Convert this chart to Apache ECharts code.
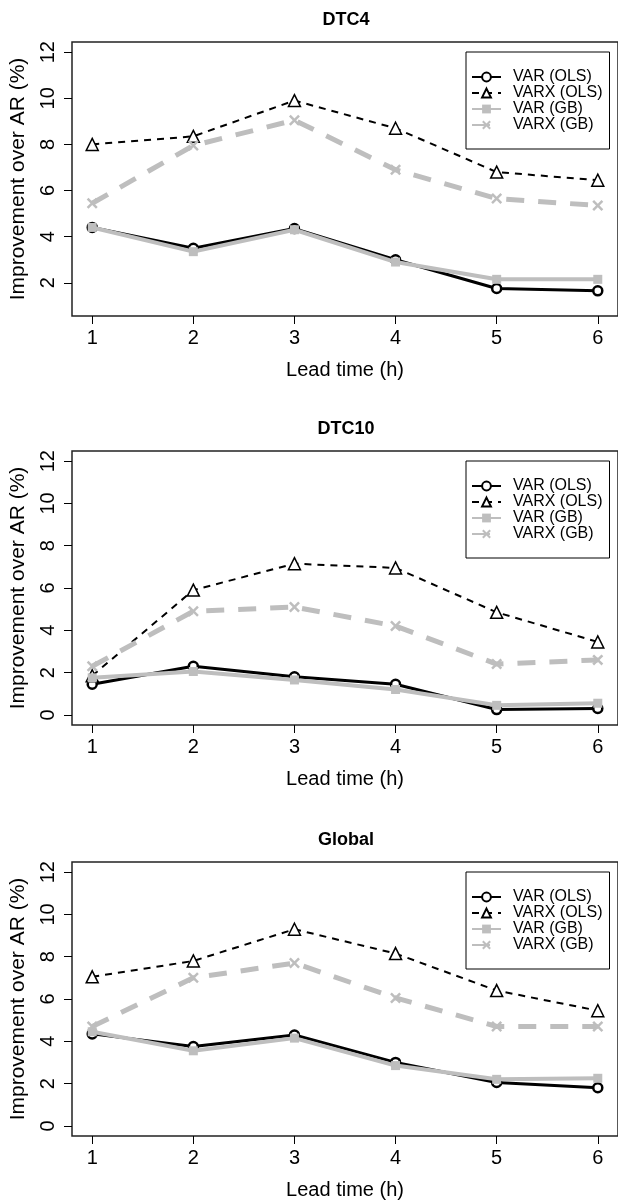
<!DOCTYPE html>
<html lang="en">
<head>
    <meta charset="UTF-8">
    <title>Improvement over AR</title>
    <script src="https://cdn.jsdelivr.net/npm/echarts@6/dist/echarts.min.js"></script>
    <style>
        html, body { margin: 0; padding: 0; background: #fff; }
        #main { width: 618px; height: 1201px; }
    </style>
</head>
<body>
    <div id="main"></div>
    <script>
        // lead times (x axis) and series names
        var LEAD = [1, 2, 3, 4, 5, 6];
        var NAMES = ['VAR (OLS)', 'VARX (OLS)', 'VAR (GB)', 'VARX (GB)'];
        var TITLES = ['DTC4', 'DTC10', 'Global'];
        var Y_TICKS_DTC4 = [2, 4, 6, 8, 10, 12];
        var Y_TICKS = [0, 2, 4, 6, 8, 10, 12];

        // DTC4
        var dtc4VarOls  = [4.4, 3.5, 4.35, 3.0, 1.75, 1.65];
        var dtc4VarxOls = [8.0, 8.35, 9.9, 8.7, 6.8, 6.45];
        var dtc4VarGb   = [4.4, 3.35, 4.3, 2.9, 2.15, 2.15];
        var dtc4VarxGb  = [5.45, 7.95, 9.05, 6.9, 5.65, 5.35];

        // DTC10
        var dtc10VarOls  = [1.45, 2.3, 1.8, 1.45, 0.25, 0.3];
        var dtc10VarxOls = [1.85, 5.9, 7.15, 6.95, 4.85, 3.45];
        var dtc10VarGb   = [1.75, 2.05, 1.65, 1.2, 0.45, 0.55];
        var dtc10VarxGb  = [2.3, 4.9, 5.1, 4.2, 2.4, 2.6];

        // Global
        var globVarOls  = [4.35, 3.75, 4.3, 3.0, 2.05, 1.8];
        var globVarxOls = [7.05, 7.8, 9.3, 8.15, 6.4, 5.45];
        var globVarGb   = [4.45, 3.55, 4.15, 2.85, 2.2, 2.25];
        var globVarxGb  = [4.7, 7.0, 7.7, 6.05, 4.7, 4.7];

        (function () {
            var myChart = echarts.init(document.getElementById('main'));
            var FONT = 'Liberation Sans, Arial, Helvetica, sans-serif';
            var GREY = '#bebebe';
            var xPath = 'path://M0,1.6L1.6,0L5,3.4L8.4,0L10,1.6L6.6,5L10,8.4L8.4,10L5,6.6L1.6,10L0,8.4L3.4,5Z';

            var panels = [
                [dtc4VarOls, dtc4VarxOls, dtc4VarGb, dtc4VarxGb],
                [dtc10VarOls, dtc10VarxOls, dtc10VarGb, dtc10VarxGb],
                [globVarOls, globVarxOls, globVarGb, globVarxGb]
            ];
            var tops = [42, 451, 862];
            var yRange = [[0.56, 12.44], [-0.48, 12.48], [-0.48, 12.48]];
            var yTicks = [Y_TICKS_DTC4, Y_TICKS, Y_TICKS];

            // styles for the 4 lines
            var styles = [
                { symbol: 'circle', symbolSize: 9,
                  itemStyle: { color: '#fff', borderColor: '#000', borderWidth: 2.5 },
                  lineStyle: { color: '#000', width: 3 } },
                { symbol: 'triangle', symbolSize: 12,
                  itemStyle: { color: '#fff', borderColor: '#000', borderWidth: 1.5 },
                  lineStyle: { color: '#000', width: 2, type: [7, 6] } },
                { symbol: 'rect', symbolSize: 9,
                  itemStyle: { color: GREY },
                  lineStyle: { color: GREY, width: 4 } },
                { symbol: xPath, symbolSize: 11,
                  itemStyle: { color: GREY },
                  lineStyle: { color: GREY, width: 5, type: [18, 14] } }
            ];

            var series = [];
            panels.forEach(function (vals, p) {
                vals.forEach(function (v, k) {
                    var s = styles[k];
                    series.push({
                        name: NAMES[k],
                        type: 'line',
                        xAxisIndex: p,
                        yAxisIndex: p,
                        symbol: s.symbol,
                        symbolSize: s.symbolSize,
                        showSymbol: true,
                        itemStyle: s.itemStyle,
                        lineStyle: s.lineStyle,
                        z: 2 + k,
                        data: LEAD.map(function (x, i) { return [x, v[i]]; })
                    });
                });
            });

            var option = {
                backgroundColor: '#fff',
                animation: false,
                grid: tops.map(function (t) {
                    return { left: 72, top: t, width: 548, height: 274, show: true,
                             borderColor: '#222', borderWidth: 1.5 };
                }),
                xAxis: tops.map(function (t, i) {
                    return {
                        gridIndex: i, type: 'value', min: 0.8, max: 6.2,
                        axisLine: { show: false, onZero: false },
                        splitLine: { show: false },
                        axisTick: { show: true, length: 8, customValues: LEAD,
                                    lineStyle: { color: '#000', width: 1 } },
                        axisLabel: { customValues: LEAD, margin: 12, fontSize: 20,
                                     color: '#000', fontFamily: FONT },
                        name: 'Lead time (h)', nameLocation: 'middle', nameGap: 44,
                        nameTextStyle: { fontSize: 20, color: '#000', fontFamily: FONT }
                    };
                }),
                yAxis: tops.map(function (t, i) {
                    return {
                        gridIndex: i, type: 'value', min: yRange[i][0], max: yRange[i][1],
                        axisLine: { show: false },
                        splitLine: { show: false },
                        axisTick: { show: true, length: 8, customValues: yTicks[i],
                                    lineStyle: { color: '#000', width: 1 } },
                        axisLabel: { customValues: yTicks[i], rotate: 90, margin: 14,
                                     fontSize: 20, color: '#000', fontFamily: FONT },
                        name: 'Improvement over AR (%)', nameLocation: 'middle',
                        nameRotate: 90, nameGap: 43,
                        nameTextStyle: { fontSize: 21, color: '#000', fontFamily: FONT }
                    };
                }),
                legend: tops.map(function (t) {
                    return {
                        data: NAMES, orient: 'vertical', left: 466, top: t + 10,
                        padding: [17, 7, 16, 5], itemWidth: 29, itemHeight: 11, itemGap: 0,
                        borderColor: '#000', borderWidth: 1, selectedMode: false,
                        textStyle: { fontSize: 16, lineHeight: 15.3, padding: [0, 0, 0, 7],
                                     color: '#000', fontFamily: FONT }
                    };
                }),
                graphic: TITLES.map(function (txt, i) {
                    return {
                        type: 'text', x: 346, y: tops[i] - 22,
                        style: { text: txt, fontSize: 18, fontWeight: 'bold', fontFamily: FONT,
                                 fill: '#000', align: 'center', verticalAlign: 'middle' }
                    };
                }),
                series: series
            };

            myChart.setOption(option);
        })();
    </script>
</body>
</html>
